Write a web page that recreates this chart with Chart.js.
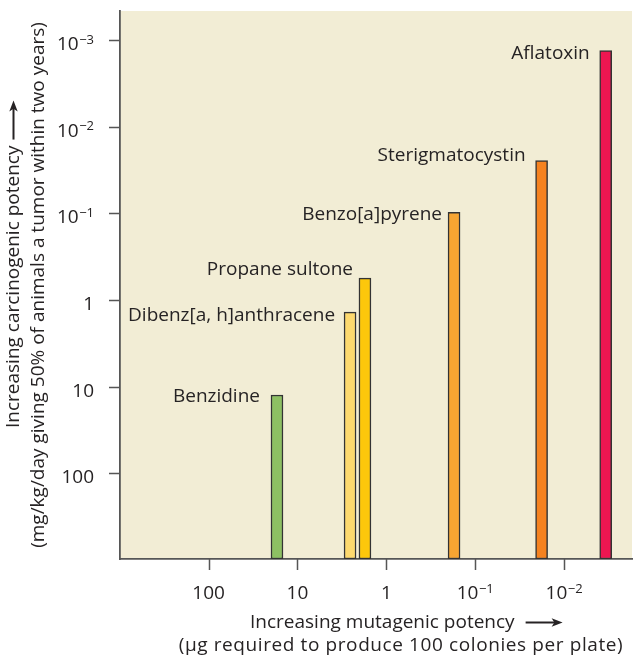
<!DOCTYPE html>
<html>
<head>
<meta charset="utf-8">
<script src="https://cdn.jsdelivr.net/npm/chart.js@4/dist/chart.umd.min.js"></script>
<style>
  html, body { margin: 0; padding: 0; background: #ffffff; }
  #wrap { width: 636px; height: 657px; position: relative; }
</style>
</head>
<body>
<div id="wrap"><canvas id="c"></canvas></div>
<script>
// Compounds, mutagenic potency (µg per 100 colonies) and carcinogenic potency (TD50, mg/kg/day)
const compounds = ['Benzidine', 'Dibenz[a, h]anthracene', 'Propane sultone', 'Benzo[a]pyrene', 'Sterigmatocystin', 'Aflatoxin'];
const mutagenicPotency = [17, 2.56, 1.74, 0.173, 0.0179, 0.0034];
const carcinogenicPotency = [12.5, 1.38, 0.56, 0.097, 0.0246, 0.00132];
const barColors = ['#8dc063', '#fdd96e', '#fdc70b', '#f7a532', '#f5821f', '#ed1651'];
const xTickValues = [100, 10, 1, 0.1, 0.01];
const yTickValues = [100, 10, 1, 0.1, 0.01, 0.001];

// axis extents (log scales, both reversed)
const X_MAX = 993, X_MIN = 0.00172;
const Y_MAX = 979, Y_MIN = 0.00046;

// label placement next to each bar: gap to the bar's left side, baseline shift from bar top
const labelGap = [11, 9, 6, 6, 10, 10];
const labelShift = [7.5, 8.5, -3.5, 7.5, 0, 8.5];

const FONT = '"Open Sans", sans-serif';
const INK = '#262324';
const AXIS = '#565656';
const TICK_LEN = 11;

function tickParts(v) {
  const e = Math.round(Math.log10(v));
  if (e >= 0) return { base: String(Math.round(Math.pow(10, e))), sup: '' };
  return { base: '10', sup: '\u2212' + Math.abs(e) };
}

function drawTickLabel(ctx, v, x, y, align) {
  const p = tickParts(v);
  ctx.font = '19px ' + FONT;
  const wb = ctx.measureText(p.base).width;
  ctx.font = '13px ' + FONT;
  const ws = p.sup ? ctx.measureText(p.sup).width + 0.5 : 0;
  const total = wb + ws;
  let left = x;
  if (align === 'right') left = x - total;
  else if (align === 'center') left = x - total / 2;
  ctx.textAlign = 'left';
  ctx.textBaseline = 'alphabetic';
  ctx.font = '19px ' + FONT;
  ctx.fillText(p.base, left, y);
  if (p.sup) {
    ctx.font = '13px ' + FONT;
    ctx.fillText(p.sup, left + wb + 0.5, y - 6.5);
  }
}

function drawArrow(ctx, x0, y0, x1, y1) {
  const ang = Math.atan2(y1 - y0, x1 - x0);
  const head = 11, half = 4.2;
  ctx.save();
  ctx.strokeStyle = INK;
  ctx.fillStyle = INK;
  ctx.lineWidth = 2;
  ctx.beginPath();
  ctx.moveTo(x0, y0);
  ctx.lineTo(x1 - head * Math.cos(ang) * 0.6, y1 - head * Math.sin(ang) * 0.6);
  ctx.stroke();
  ctx.translate(x1, y1);
  ctx.rotate(ang);
  ctx.beginPath();
  ctx.moveTo(0, 0);
  ctx.lineTo(-head, -half);
  ctx.lineTo(-head * 0.75, 0);
  ctx.lineTo(-head, half);
  ctx.closePath();
  ctx.fill();
  ctx.restore();
}

const decor = {
  id: 'decor',
  beforeDraw(chart) {
    const { ctx, chartArea: a } = chart;
    ctx.save();
    ctx.fillStyle = '#f2edd5';
    ctx.fillRect(a.left, a.top, a.right - a.left, a.bottom - a.top);
    ctx.restore();
  },
  afterDraw(chart) {
    const { ctx, chartArea: a, scales } = chart;
    ctx.save();

    // outward tick marks at each decade
    ctx.strokeStyle = AXIS;
    ctx.lineWidth = 1.5;
    ctx.beginPath();
    scales.x.ticks.forEach(t => {
      const px = Math.round(scales.x.getPixelForValue(t.value)) + 0.5;
      ctx.moveTo(px, a.bottom);
      ctx.lineTo(px, a.bottom + TICK_LEN);
    });
    scales.y.ticks.forEach(t => {
      const py = Math.round(scales.y.getPixelForValue(t.value)) + 0.5;
      ctx.moveTo(a.left, py);
      ctx.lineTo(a.left - TICK_LEN, py);
    });
    ctx.stroke();

    ctx.fillStyle = INK;

    // tick labels with superscript exponents
    scales.x.ticks.forEach(t => {
      drawTickLabel(ctx, t.value, scales.x.getPixelForValue(t.value), a.bottom + 40, 'center');
    });
    scales.y.ticks.forEach(t => {
      drawTickLabel(ctx, t.value, a.left - 26, scales.y.getPixelForValue(t.value) + 10, 'right');
    });

    // compound names beside the bar tops
    const meta = chart.getDatasetMeta(0);
    ctx.font = '19px ' + FONT;
    ctx.textAlign = 'right';
    ctx.textBaseline = 'alphabetic';
    meta.data.forEach((bar, i) => {
      const left = bar.x - bar.width / 2;
      const top = scales.y.getPixelForValue(carcinogenicPotency[i]);
      ctx.fillText(compounds[i], left - labelGap[i], top + labelShift[i]);
    });

    // x-axis title
    ctx.font = '19px ' + FONT;
    ctx.textAlign = 'left';
    const xt1 = 'Increasing mutagenic potency';
    const xt1x = a.left + 130, xt1y = a.bottom + 69;
    ctx.fillText(xt1, xt1x, xt1y);
    const w1 = ctx.measureText(xt1).width;
    drawArrow(ctx, xt1x + w1 + 11, xt1y - 5.5, xt1x + w1 + 48, xt1y - 5.5);
    ctx.textAlign = 'center';
    ctx.letterSpacing = '0.6px';
    ctx.fillText('(\u03bcg required to produce 100 colonies per plate)', a.left + 281, a.bottom + 92);
    ctx.letterSpacing = '0px';

    // y-axis title (rotated)
    const yt1 = 'Increasing carcinogenic potency';
    ctx.save();
    ctx.translate(19, 428);
    ctx.rotate(-Math.PI / 2);
    ctx.textAlign = 'left';
    ctx.fillText(yt1, 0, 0);
    const w2 = ctx.measureText(yt1).width;
    drawArrow(ctx, w2 + 6, -5.5, w2 + 45, -5.5);
    ctx.restore();

    ctx.save();
    ctx.translate(44, (a.top + a.bottom) / 2);
    ctx.rotate(-Math.PI / 2);
    ctx.textAlign = 'center';
    ctx.fillText('(mg/kg/day giving 50% of animals a tumor within two years)', 0, 0);
    ctx.restore();

    ctx.restore();
  }
};

const points = compounds.map((c, i) => ({ x: mutagenicPotency[i], y: [Y_MAX, carcinogenicPotency[i]] }));

new Chart(document.getElementById('c'), {
  type: 'bar',
  data: {
    datasets: [{
      data: points,
      backgroundColor: barColors,
      borderColor: '#333333',
      borderWidth: 1.5,
      borderSkipped: false,
      barThickness: 12
    }]
  },
  options: {
    responsive: true,
    maintainAspectRatio: false,
    animation: false,
    layout: { padding: { top: 11, right: 4, left: 0, bottom: 0 } },
    plugins: { legend: { display: false }, tooltip: { enabled: false } },
    scales: {
      x: {
        type: 'logarithmic',
        reverse: true,
        offset: false,
        min: X_MIN,
        max: X_MAX,
        afterBuildTicks(scale) { scale.ticks = xTickValues.map(v => ({ value: v })); },
        afterFit(scale) { scale.height = 98; },
        ticks: { display: false },
        grid: { offset: false, drawOnChartArea: false, drawTicks: false },
        border: { display: true, color: AXIS, width: 1.8 }
      },
      y: {
        type: 'logarithmic',
        reverse: true,
        offset: false,
        min: Y_MIN,
        max: Y_MAX,
        afterBuildTicks(scale) { scale.ticks = yTickValues.map(v => ({ value: v })); },
        afterFit(scale) { scale.width = 120; },
        ticks: { display: false },
        grid: { offset: false, drawOnChartArea: false, drawTicks: false },
        border: { display: true, color: AXIS, width: 1.8 }
      }
    }
  },
  plugins: [decor]
});
</script>
</body>
</html>
